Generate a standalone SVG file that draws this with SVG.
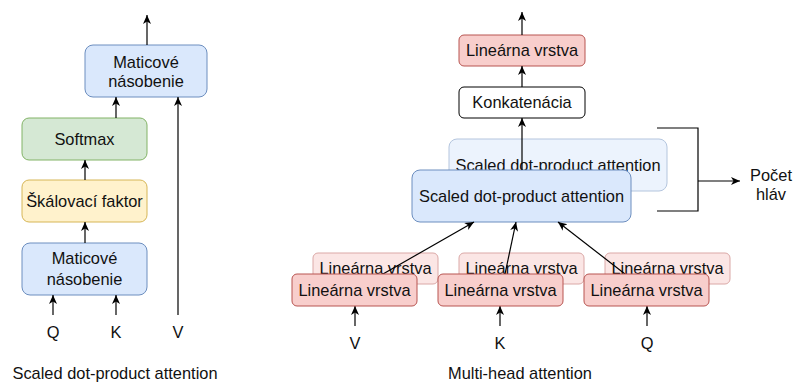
<svg xmlns="http://www.w3.org/2000/svg" width="793" height="388" viewBox="0 0 793 388">
<defs>
<style>
text{font-family:"Liberation Sans",Arial,sans-serif;font-size:16.4px;fill:#111;text-anchor:middle}
.blue{fill:#dae8fc;stroke:#6c8ebf;stroke-width:1}
.green{fill:#d5e8d4;stroke:#82b366;stroke-width:1}
.yellow{fill:#fff2cc;stroke:#d6b656;stroke-width:1}
.red{fill:#f8cecc;stroke:#b85450;stroke-width:1}
.white{fill:#fff;stroke:#000;stroke-width:1}
.ln{fill:none;stroke:#000;stroke-width:1.2}
.back rect{opacity:0.5}
</style>
<marker id="ah" markerWidth="10" markerHeight="10" refX="9" refY="5" orient="auto" markerUnits="userSpaceOnUse">
<path d="M0,1 L9,5 L0,9 L2.5,5 Z" fill="#000"/>
</marker>
</defs>
<rect width="793" height="388" fill="#fff"/>

<!-- Left diagram -->
<g id="mat-top"><rect class="blue" x="85" y="45" width="122" height="52" rx="8"/><text x="146" y="68">Maticové</text><text x="146" y="87">násobenie</text></g>
<g id="softmax"><rect class="green" x="22" y="118" width="125" height="42" rx="7"/><text x="84.5" y="145">Softmax</text></g>
<g id="skal"><rect class="yellow" x="22" y="180" width="125" height="42" rx="7"/><text x="84.5" y="207">Škálovací faktor</text></g>
<g id="mat-bot"><rect class="blue" x="22" y="243" width="125" height="52" rx="8"/><text x="84.5" y="264">Maticové</text><text x="84.5" y="285">násobenie</text></g>
<g id="lbl-left"><text x="53" y="338">Q</text><text x="116" y="338">K</text><text x="178" y="338">V</text><text x="115" y="379">Scaled dot-product attention</text></g>

<!-- Right diagram -->
<g id="lin-top"><rect class="red" x="459" y="35" width="126" height="31" rx="5"/><text x="522" y="56">Lineárna vrstva</text></g>
<g id="konk"><rect class="white" x="459" y="87" width="126" height="31" rx="5"/><text x="522" y="108">Konkatenácia</text></g>
<g id="sdpa-back" class="back"><rect class="blue" x="449" y="139" width="218" height="52" rx="8"/><text x="558" y="171">Scaled dot-product attention</text></g>
<g id="sdpa-front"><rect class="blue" x="412" y="170" width="219" height="52" rx="8"/><text x="521.5" y="202">Scaled dot-product attention</text></g>
<g id="lin-back-v" class="back"><rect class="red" x="313" y="253" width="125" height="31" rx="5"/><text x="375.5" y="274">Lineárna vrstva</text></g>
<g id="lin-back-k" class="back"><rect class="red" x="459" y="253" width="125" height="31" rx="5"/><text x="521.5" y="274">Lineárna vrstva</text></g>
<g id="lin-back-q" class="back"><rect class="red" x="605" y="253" width="125" height="31" rx="5"/><text x="667.5" y="274">Lineárna vrstva</text></g>

<g id="connectors">
<line class="ln" x1="147" y1="45" x2="147" y2="15" marker-end="url(#ah)"/>
<line class="ln" x1="116" y1="118" x2="116" y2="97" marker-end="url(#ah)"/>
<line class="ln" x1="178" y1="315" x2="178" y2="97" marker-end="url(#ah)"/>
<line class="ln" x1="85" y1="180" x2="85" y2="160" marker-end="url(#ah)"/>
<line class="ln" x1="85" y1="243" x2="85" y2="222" marker-end="url(#ah)"/>
<line class="ln" x1="53" y1="315" x2="53" y2="295" marker-end="url(#ah)"/>
<line class="ln" x1="116" y1="315" x2="116" y2="295" marker-end="url(#ah)"/>

<line class="ln" x1="522" y1="35" x2="522" y2="12" marker-end="url(#ah)"/>
<line class="ln" x1="522" y1="87" x2="522" y2="66" marker-end="url(#ah)"/>
<line class="ln" x1="522" y1="170" x2="522" y2="118" marker-end="url(#ah)"/>
<line class="ln" x1="383" y1="274" x2="474" y2="222" marker-end="url(#ah)"/>
<line class="ln" x1="505" y1="274" x2="516" y2="222" marker-end="url(#ah)"/>
<line class="ln" x1="625" y1="274" x2="558" y2="222" marker-end="url(#ah)"/>
<polyline class="ln" points="657,128 698,128 698,211 657,211"/>
<line class="ln" x1="698" y1="181" x2="740" y2="181" marker-end="url(#ah)"/>
<line class="ln" x1="355" y1="326" x2="355" y2="306" marker-end="url(#ah)"/>
<line class="ln" x1="500" y1="326" x2="500" y2="306" marker-end="url(#ah)"/>
<line class="ln" x1="647" y1="326" x2="647" y2="306" marker-end="url(#ah)"/>
</g>

<g id="lin-front-v"><rect class="red" x="292" y="274" width="125" height="32" rx="5"/><text x="354.5" y="296">Lineárna vrstva</text></g>
<g id="lin-front-k"><rect class="red" x="438" y="274" width="125" height="32" rx="5"/><text x="500.5" y="296">Lineárna vrstva</text></g>
<g id="lin-front-q"><rect class="red" x="584" y="274" width="125" height="32" rx="5"/><text x="646.5" y="296">Lineárna vrstva</text></g>

<g id="lbl-right"><text x="355" y="349">V</text><text x="500" y="349">K</text><text x="647" y="349">Q</text><text x="520" y="379">Multi-head attention</text><text x="771" y="181">Počet</text><text x="771" y="200">hláv</text></g>
</svg>
